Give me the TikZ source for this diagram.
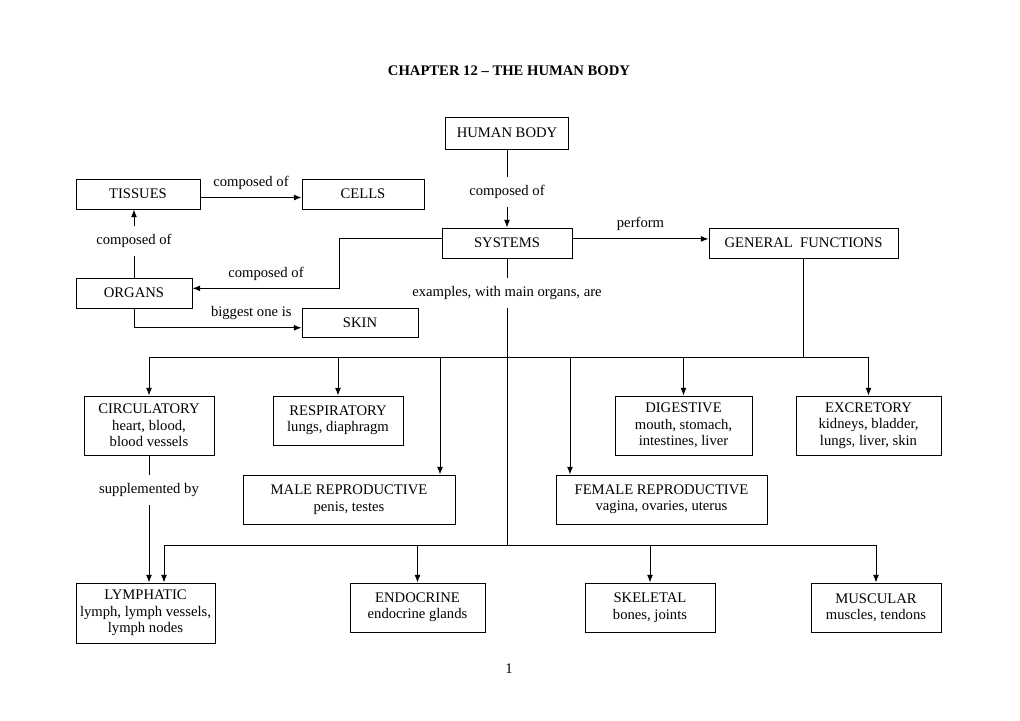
\documentclass[tikz,border=0pt]{standalone}
\usepackage{fontspec}
\setmainfont{Liberation Serif}
\usetikzlibrary{arrows.meta}

\tikzset{
    box/.style={draw, line width=0.8pt, align=center, inner sep=2pt},
    bw/.style={minimum width=#1*0.03cm},
    bh/.style={minimum height=#1*0.03cm},
    lbl/.style={text height=9pt, text depth=3pt, inner ysep=6.5pt, inner xsep=2pt},
    link/.style={line width=0.8pt},
    arr/.style={line width=0.8pt, -{Latex[length=6.5pt,width=5pt]}},
    over/.style={above=3pt}
}

\begin{document}
\begin{tikzpicture}[x=0.03cm, y=-0.03cm, font=\fontsize{12.5}{14}\selectfont]
            \useasboundingbox (0,0) rectangle (1020,720);

            \node[font=\fontsize{12.5}{14}\selectfont\bfseries] (title) at (509,71) {CHAPTER 12 -- THE HUMAN BODY};

            \node[box, bw=123, bh=32] (body) at (507,133) {HUMAN BODY};
            \node[box, bw=124, bh=30] (tissues) at (138,194) {TISSUES};
            \node[box, bw=122, bh=30] (cells) at (363,194) {CELLS};
            \node[box, bw=130, bh=30] (systems) at (507,243) {SYSTEMS};
            \node[box, bw=189, bh=30] (functions) at (803.5,243) {GENERAL\ \ FUNCTIONS};
            \node[box, bw=116, bh=30] (organs) at (134,293) {ORGANS};
            \node[box, bw=116, bh=29] (skin) at (360,322.5) {SKIN};

            \node[box, bw=130, bh=59] (circ) at (149,425.5) {CIRCULATORY\\heart, blood,\\blood vessels};
            \node[box, bw=130, bh=49] (resp) at (338,420.5) {RESPIRATORY\\lungs, diaphragm};
            \node[box, bw=137, bh=59] (dig) at (683.5,425.5) {DIGESTIVE\\mouth, stomach,\\intestines, liver};
            \node[box, bw=145, bh=59] (excr) at (868.5,425.5) {EXCRETORY\\kidneys, bladder,\\lungs, liver, skin};
            \node[box, bw=212, bh=49] (male) at (349,499.5) {MALE REPRODUCTIVE\\penis, testes};
            \node[box, bw=211, bh=49] (female) at (661.5,499.5) {FEMALE REPRODUCTIVE\\vagina, ovaries, uterus};

            \node[box, bw=139, bh=60] (lymph) at (145.5,613) {LYMPHATIC\\lymph, lymph vessels,\\lymph nodes};
            \node[box, bw=135, bh=49] (endo) at (417.5,607.5) {ENDOCRINE\\endocrine glands};
            \node[box, bw=130, bh=49] (skel) at (650,607.5) {SKELETAL\\bones, joints};
            \node[box, bw=130, bh=49] (musc) at (876,607.5) {MUSCULAR\\muscles, tendons};

            % labels that break a vertical line
            \node[lbl] (l-body) at (507,192) {composed of};
            \node[lbl] (l-organs) at (134,241) {composed of};
            \node[lbl] (l-systems) at (507,293) {examples, with main organs, are};
            \node[lbl] (l-circ) at (149,490) {supplemented by};

            \coordinate (topbus) at (149,357);
            \coordinate (m) at (440,357);
            \coordinate (f) at (570,357);
            \coordinate (lowbus) at (164,545);

            \draw[link] (body) -- (l-body);
            \draw[arr] (l-body) -- (systems);
            \draw[arr] ([yshift=-3pt]tissues.east) -- node[over] {composed of} ([yshift=-3pt]cells.west);
            \draw[link] (organs) -- (l-organs);
            \draw[arr] (l-organs) -- (l-organs |- tissues.south);
            \draw[arr] ([yshift=3.5pt]systems.west) -- ++(-102,0) |- node[pos=0.75, over] {composed of} ([yshift=4pt]organs.east);
            \draw[arr] (organs.south) |- node[pos=0.85, over] {biggest one is} ([yshift=-4.5pt]skin.west);
            \draw[arr] ([yshift=3.5pt]systems.east) -- node[over] {perform} ([yshift=3.5pt]functions.west);

            \draw[link] (functions) -- (functions |- topbus);
            \draw[link] (topbus) -- (excr |- topbus);
            \foreach \n in {circ, resp, dig, excr}
                \draw[arr] (\n |- topbus) -- (\n);
            \draw[arr] (m) -- (m |- male.north);
            \draw[arr] (f) -- (f |- female.north);

            \draw[link] (systems) -- (l-systems);
            \draw[link] (l-systems) -- (l-systems |- lowbus);
            \draw[link] (lowbus) -- (musc |- lowbus);
            \draw[arr] (lowbus) -- (lowbus |- lymph.north);
            \foreach \n in {endo, skel, musc}
                \draw[arr] (\n |- lowbus) -- (\n);

            \draw[link] (circ) -- (l-circ);
            \draw[arr] (l-circ) -- (l-circ |- lymph.north);

            \node (page) at (509,669) {1};

        \end{tikzpicture}
\end{document}
